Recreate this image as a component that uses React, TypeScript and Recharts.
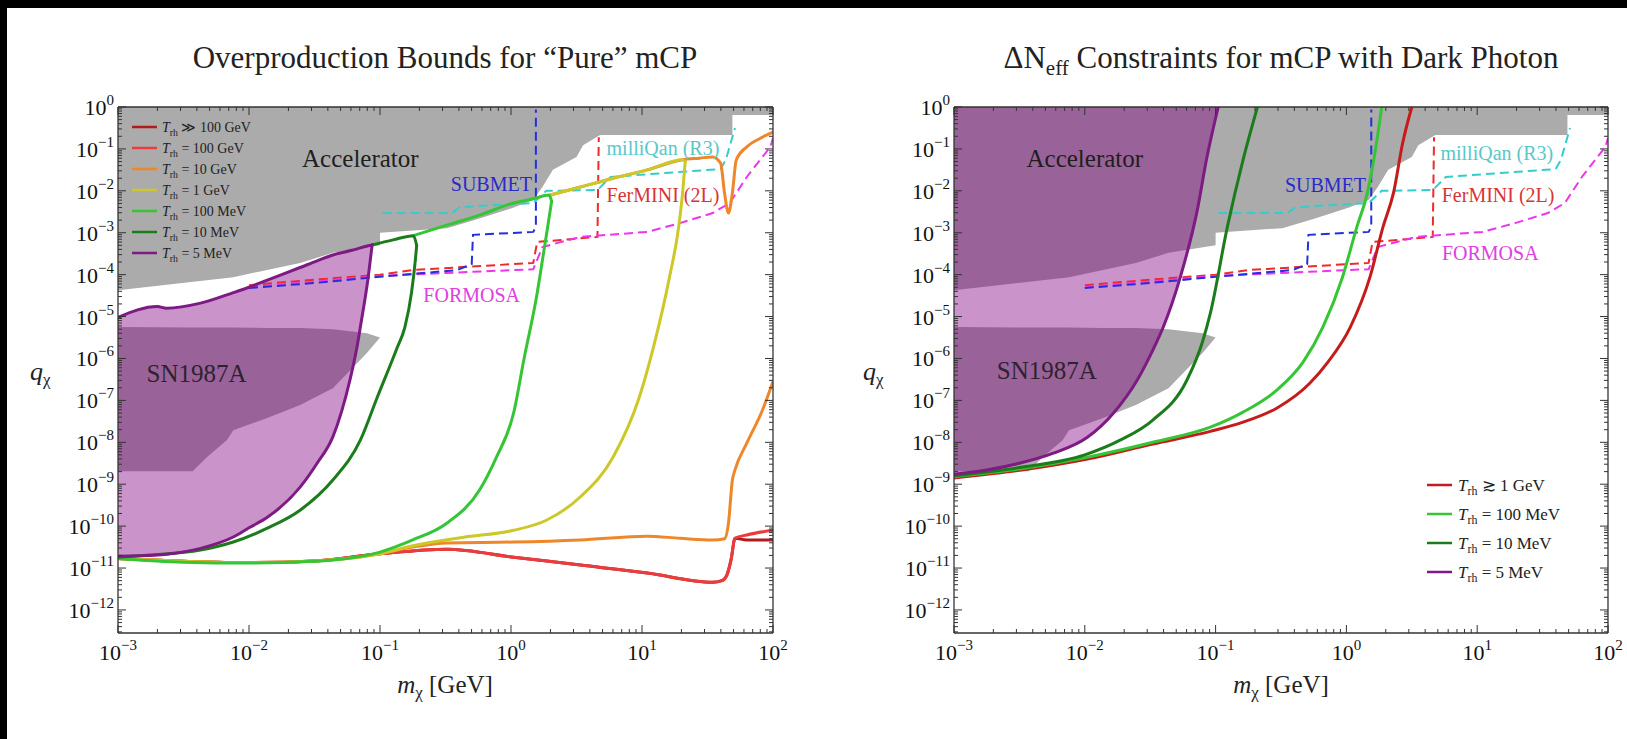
import React from "react";
import { ComposedChart, Area, Line, XAxis, YAxis, ReferenceDot } from "recharts";

// All coordinates are log10 values: x = log10(m / GeV), y = log10(q)
type Band = [number, number, number][];
type Curve = [number, number][];

const X_DOMAIN: [number, number] = [-3, 2];
const Y_DOMAIN: [number, number] = [-12.55, 0];

// excluded regions, [x, lower edge, upper edge]
const acceleratorBand: Band = [
  [-3, -4.37, 0], [-2.12, -4.06, 0], [-1.61, -3.72, 0], [-1.36, -3.48, 0],
  [-1.0, -3.3, 0], [-1.0, -3.0, 0], [-0.49, -2.89, 0], [-0.24, -2.66, 0],
  [0.02, -2.4, 0], [0.17, -2.22, 0], [0.24, -1.91, 0], [0.32, -1.5, 0],
  [0.5, -1.19, 0], [0.55, -0.91, 0], [0.68, -0.67, 0], [1.69, -0.67, 0],
  [1.69, -0.19, 0], [2, -0.19, 0],
];

const sn1987aBand: Band = [
  [-3, -8.69, -5.25], [-2.43, -8.69, -5.26], [-2.32, -8.35, -5.26],
  [-2.17, -7.95, -5.26], [-2.12, -7.71, -5.26], [-1.86, -7.42, -5.27],
  [-1.61, -7.11, -5.27], [-1.36, -6.71, -5.3], [-1.1, -5.87, -5.4],
  [-1.0, -5.5, -5.5],
];

// overproduction, T_rh = 5 MeV (closed region)
const pure5MeVBand: Band = [
  [-3, -10.72, -5.02], [-2.7, -10.69, -4.76], [-2.63, -10.67, -4.8],
  [-2.37, -10.53, -4.68], [-2.12, -10.26, -4.43], [-2.0, -10.04, -4.3],
  [-1.86, -9.79, -4.13], [-1.61, -9.07, -3.83], [-1.48, -8.5, -3.67],
  [-1.36, -7.87, -3.53], [-1.23, -6.52, -3.43], [-1.18, -5.8, -3.39],
  [-1.15, -5.25, -3.36], [-1.09, -4.06, -3.31], [-1.06, -3.29, -3.29],
];

const pure10MeV: Curve = [
  [-3, -10.74], [-2.76, -10.69], [-2.37, -10.57], [-2.12, -10.38], [-1.86, -10.05],
  [-1.61, -9.62], [-1.36, -8.9], [-1.15, -7.95], [-1.02, -6.92], [-0.87, -5.75],
  [-0.81, -5.25], [-0.76, -4.44], [-0.73, -3.65], [-0.72, -3.3], [-0.745, -3.07],
  [-0.9, -3.17], [-1.06, -3.29],
];

const pure100MeV: Curve = [
  [-3, -10.77], [-2.5, -10.86], [-2.0, -10.88], [-1.5, -10.84], [-1.36, -10.81],
  [-1.0, -10.62], [-0.75, -10.33], [-0.49, -9.93], [-0.24, -9.14], [-0.11, -8.35],
  [0.02, -7.3], [0.1, -6.0], [0.2, -4.44], [0.24, -3.65], [0.28, -2.86],
  [0.31, -2.25], [0.29, -2.1], [0.17, -2.19], [0.02, -2.29], [-0.24, -2.58],
  [-0.49, -2.82], [-0.745, -3.07],
];

const pure1GeV: Curve = [
  [-3, -10.77], [-2.0, -10.87], [-1.5, -10.83], [-1.0, -10.66], [-0.75, -10.47],
  [-0.37, -10.27], [0.02, -10.1], [0.27, -9.86], [0.53, -9.3], [0.78, -8.35],
  [0.98, -6.92], [1.09, -5.7], [1.21, -4.06], [1.28, -2.86], [1.31, -2.05],
  [1.33, -1.3], [1.31, -1.26], [1.04, -1.5], [0.78, -1.7], [0.53, -1.91], [0.3, -2.1],
];

const pure10GeVLow: Curve = [
  [-3, -10.77], [-2.0, -10.87], [-1.5, -10.83], [-1.0, -10.66], [-0.75, -10.5],
  [-0.49, -10.4], [0.02, -10.38], [0.53, -10.33], [1.04, -10.24], [1.29, -10.29],
  [1.54, -10.33], [1.63, -10.3], [1.66, -9.93], [1.69, -8.9], [1.71, -8.66],
  [1.8, -8.02], [1.92, -7.23], [2.0, -6.55],
];

const pure10GeVHigh: Curve = [
  [0.3, -2.1], [0.53, -1.91], [0.78, -1.7], [1.04, -1.5], [1.31, -1.26],
  [1.44, -1.22], [1.54, -1.19], [1.6, -1.34], [1.63, -2.05], [1.66, -2.53],
  [1.69, -2.05], [1.72, -1.26], [1.8, -0.95], [1.9, -0.75], [2.0, -0.6],
];

const pure100GeV: Curve = [
  [-3, -10.77], [-2.0, -10.87], [-1.5, -10.83], [-1.0, -10.66], [-0.49, -10.55],
  [0.02, -10.74], [0.53, -10.93], [1.04, -11.12], [1.54, -11.34], [1.61, -11.3],
  [1.65, -11.15], [1.68, -10.8], [1.71, -10.29], [1.8, -10.21], [2.0, -10.1],
];

const pureHighT: Curve = [
  [-3, -10.77], [-2.0, -10.87], [-1.5, -10.83], [-1.0, -10.66], [-0.49, -10.55],
  [0.02, -10.74], [0.53, -10.93], [1.04, -11.12], [1.54, -11.34], [1.61, -11.3],
  [1.65, -11.15], [1.68, -10.8], [1.71, -10.29], [1.8, -10.33], [2.0, -10.33],
];

// Delta N_eff with dark photon
const dp5MeVBand: Band = [
  [-3, -8.76, 0], [-2.75, -8.66, 0], [-2.5, -8.5, 0], [-2.24, -8.26, 0],
  [-1.98, -7.88, 0], [-1.78, -7.3, 0], [-1.6, -6.52, 0], [-1.48, -5.8, 0],
  [-1.4, -5.25, 0], [-1.27, -4.06, 0], [-1.14, -2.46, 0], [-1.07, -1.26, 0],
  [-0.98, 0, 0],
];

const dp10MeV: Curve = [
  [-3, -8.8], [-2.5, -8.6], [-2.0, -8.3], [-1.73, -7.95], [-1.48, -7.47],
  [-1.22, -6.52], [-1.1, -5.6], [-1.04, -4.92], [-0.91, -2.86], [-0.79, -1.26], [-0.68, 0],
];

const dp100MeV: Curve = [
  [-3, -8.82], [-2.5, -8.64], [-2.0, -8.37], [-1.48, -8.0], [-1.04, -7.64],
  [-0.79, -7.28], [-0.53, -6.75], [-0.33, -6.08], [-0.18, -5.25], [-0.03, -4.06],
  [0.08, -2.86], [0.16, -2.05], [0.23, -0.86], [0.27, 0],
];

const dp1GeV: Curve = [
  [-3, -8.85], [-2.5, -8.67], [-1.98, -8.4], [-1.48, -8.04], [-1.04, -7.74],
  [-0.79, -7.52], [-0.53, -7.18], [-0.28, -6.59], [-0.14, -6.08], [0.03, -5.25],
  [0.18, -4.06], [0.28, -2.86], [0.36, -2.05], [0.43, -0.86], [0.5, 0],
];

// projected experimental reach (dashed)
const submet: Curve = [
  [-2.0, -4.32], [-1.5, -4.2], [-1.0, -4.05], [-0.41, -3.89], [-0.3, -3.75],
  [-0.29, -3.05], [0.17, -2.98], [0.19, -2.86], [0.19, -0.06],
];
const fermini: Curve = [
  [-2.0, -4.25], [-1.5, -4.12], [-1.0, -4.0], [-0.75, -3.89], [0.17, -3.72],
  [0.2, -3.22], [0.66, -3.1], [0.67, -0.72],
];
const formosa: Curve = [
  [-2.0, -4.3], [-1.0, -4.03], [-0.49, -3.96], [0.17, -3.87], [0.24, -3.34],
  [0.53, -3.1], [1.04, -2.98], [1.29, -2.77], [1.54, -2.53], [1.67, -2.29],
  [1.8, -1.67], [1.98, -0.95], [2.0, -0.74],
];
const milliqan: Curve = [
  [-0.98, -2.53], [-0.45, -2.53], [-0.39, -2.39], [0.17, -2.29], [0.27, -2.0],
  [0.66, -1.98], [0.76, -1.67], [1.6, -1.48], [1.64, -1.26], [1.71, -0.5],
];

const leftLegend = ["≫ 100 GeV", "= 100 GeV", "= 10 GeV", "= 1 GeV", "= 100 MeV", "= 10 MeV", "= 5 MeV"];
const rightLegend = ["≳ 1 GeV", "= 100 MeV", "= 10 MeV", "= 5 MeV"];

const X_DECADES = [-3, -2, -1, 0, 1, 2];
const Y_DECADES = [-13, -12, -11, -10, -9, -8, -7, -6, -5, -4, -3, -2, -1, 0];

const FONT = '"Liberation Serif", "DejaVu Serif", serif';
const C = {
  gray: "#ababab",
  purple: "#7e1a83",
  purpleFill: "#800080",
  darkGreen: "#1c7c1c",
  green: "#35c535",
  yellow: "#cdc82a",
  orange: "#f0862a",
  red: "#ea3c3c",
  darkRed: "#b51a1a",
  dpRed: "#c51b1b",
  blue: "#2230dd",
  dashRed: "#ee2a2a",
  magenta: "#ee35ee",
  cyan: "#35cccc",
  frame: "#333",
};

const leftLegendColors = [C.darkRed, C.red, C.orange, C.yellow, C.green, C.darkGreen, C.purple];
const rightLegendColors = [C.dpRed, C.green, C.darkGreen, C.purple];

const xy = (pts: Curve) => pts.map(([x, y]) => ({ x, y }));
const range = (pts: Band) => pts.map(([x, lo, hi]) => ({ x, r: [lo, hi] }));
const lower = (pts: Band): Curve => pts.map(([x, lo]) => [x, lo]);
const upper = (pts: Band): Curve => pts.map(([x, , hi]) => [x, hi]);

// cut a curve where it turns back in x, so each piece can use a monotone spline
function monotoneRuns(pts: Curve): Curve[] {
  const runs: Curve[] = [];
  let cur: Curve = [pts[0]];
  let dir = 0;
  for (let i = 1; i < pts.length; i++) {
    const d = Math.sign(pts[i][0] - pts[i - 1][0]);
    if (dir === 0 || d === dir) {
      cur.push(pts[i]);
      dir = d;
    } else {
      runs.push(cur);
      cur = [pts[i - 1], pts[i]];
      dir = d;
    }
  }
  runs.push(cur);
  return runs.map((r) => (r[0][0] <= r[r.length - 1][0] ? r : [...r].reverse()));
}

function logTicks(decades: number[], lo: number, hi: number) {
  const out: number[] = [];
  decades.forEach((n) => {
    for (let k = 1; k < 10; k++) {
      const v = n + Math.log10(k);
      if (v >= lo - 1e-9 && v <= hi + 1e-9) out.push(v);
    }
  });
  return out;
}
const xTicks = logTicks(X_DECADES, X_DOMAIN[0], X_DOMAIN[1]);
const yTicks = logTicks(Y_DECADES, Y_DOMAIN[0], Y_DOMAIN[1]);

const isMajor = (v: number) => Math.abs(v - Math.round(v)) < 1e-6;
const expText = (v: number) => {
  const n = Math.round(v);
  return n < 0 ? `−${-n}` : `${n}`;
};

function Power({ x, y, anchor, v }: { x: number; y: number; anchor: string; v: number }) {
  return (
    <text x={x} y={y} textAnchor={anchor} fontFamily={FONT} fontSize={22} fill="#111">
      10
      <tspan dy={-10} fontSize={15}>
        {expText(v)}
      </tspan>
    </text>
  );
}

const tickLen = (v: number) => (isMajor(v) ? 8 : 4);

function BottomTick(props: any) {
  const { x, y, payload } = props;
  const v = payload.value;
  return (
    <g>
      <line x1={x} x2={x} y1={y} y2={y - tickLen(v)} stroke={C.frame} />
      {isMajor(v) && <Power x={x} y={y + 27} anchor="middle" v={v} />}
    </g>
  );
}
function TopTick(props: any) {
  const { x, y, payload } = props;
  return <line x1={x} x2={x} y1={y} y2={y + tickLen(payload.value)} stroke={C.frame} />;
}
function LeftTick(props: any) {
  const { x, y, payload } = props;
  const v = payload.value;
  return (
    <g>
      <line x1={x} x2={x + tickLen(v)} y1={y} y2={y} stroke={C.frame} />
      {isMajor(v) && <Power x={x - 4} y={y + 8} anchor="end" v={v} />}
    </g>
  );
}
function RightTick(props: any) {
  const { x, y, payload } = props;
  return <line x1={x} x2={x - tickLen(payload.value)} y1={y} y2={y} stroke={C.frame} />;
}

const axisLine = { stroke: C.frame, strokeWidth: 1.3 };

// axes are 1px thick so they get drawn; margins below account for that
function frameAxes() {
  return [
    <XAxis key="xb" xAxisId="b" type="number" dataKey="x" domain={X_DOMAIN} allowDataOverflow
      ticks={xTicks} interval={0} tick={<BottomTick />} tickLine={false} tickSize={0} tickMargin={0}
      height={1} axisLine={axisLine} />,
    <XAxis key="xt" xAxisId="t" orientation="top" type="number" dataKey="x" domain={X_DOMAIN}
      allowDataOverflow ticks={xTicks} interval={0} tick={<TopTick />} tickLine={false} tickSize={0}
      tickMargin={0} height={1} axisLine={axisLine} />,
    <YAxis key="yl" yAxisId="l" type="number" domain={Y_DOMAIN} allowDataOverflow ticks={yTicks}
      interval={0} tick={<LeftTick />} tickLine={false} tickSize={0} tickMargin={0} width={1}
      axisLine={axisLine} />,
    <YAxis key="yr" yAxisId="r" orientation="right" type="number" domain={Y_DOMAIN} allowDataOverflow
      ticks={yTicks} interval={0} tick={<RightTick />} tickLine={false} tickSize={0} tickMargin={0}
      width={1} axisLine={axisLine} />,
  ];
}

const ax = { xAxisId: "b", yAxisId: "l", isAnimationActive: false, dot: false, activeDot: false } as const;

// smooth solid curve, split into x-monotone pieces
function solid(key: string, pts: Curve, color: string, width = 3) {
  return monotoneRuns(pts).map((run, i) => (
    <Line key={`${key}-${i}`} {...ax} data={xy(run)} dataKey="y" type="monotoneX" stroke={color}
      strokeWidth={width} strokeLinejoin="round" strokeLinecap="round" />
  ));
}
function dashed(key: string, pts: Curve, color: string) {
  return (
    <Line key={key} {...ax} data={xy(pts)} dataKey="y" type="linear" stroke={color}
      strokeWidth={2} strokeDasharray="9 5" />
  );
}
function fill(key: string, band: Band, color: string, opacity: number, smooth = false) {
  return (
    <Area key={key} {...ax} data={range(band)} dataKey="r" type={smooth ? "monotoneX" : "linear"}
      fill={color} fillOpacity={opacity} stroke="none" />
  );
}

type Note = { x: number; y: number; text: string; color: string; size: number };

function notes(list: Note[]) {
  return list.map((n) => (
    <ReferenceDot key={n.text} xAxisId="b" yAxisId="l" x={n.x} y={n.y} r={0}
      shape={(p: any) => (
        <text x={p.cx} y={p.cy} textAnchor="middle" dominantBaseline="central" fontFamily={FONT}
          fontSize={n.size} fill={n.color}>
          {n.text}
        </text>
      )} />
  ));
}

const leftNotes: Note[] = [
  { x: -1.15, y: -1.22, text: "Accelerator", color: "#1e1e1e", size: 25 },
  { x: -0.15, y: -1.83, text: "SUBMET", color: "#2a2ac8", size: 20 },
  { x: 1.16, y: -0.98, text: "milliQan (R3)", color: "#58c8c8", size: 20 },
  { x: 1.16, y: -2.1, text: "FerMINI (2L)", color: "#d83434", size: 20 },
  { x: -0.3, y: -4.49, text: "FORMOSA", color: "#e040e0", size: 20 },
  { x: -2.4, y: -6.35, text: "SN1987A", color: "#2e2230", size: 25 },
];
const rightNotes: Note[] = [
  { x: -2.0, y: -1.22, text: "Accelerator", color: "#1e1e1e", size: 25 },
  { x: -0.16, y: -1.86, text: "SUBMET", color: "#2a2ac8", size: 20 },
  { x: 1.15, y: -1.1, text: "milliQan (R3)", color: "#58c8c8", size: 20 },
  { x: 1.16, y: -2.1, text: "FerMINI (2L)", color: "#d83434", size: 20 },
  { x: 1.1, y: -3.48, text: "FORMOSA", color: "#e040e0", size: 20 },
  { x: -2.29, y: -6.28, text: "SN1987A", color: "#2e2230", size: 25 },
];

function dashedSet() {
  return [
    dashed("fermini", fermini, C.dashRed),
    dashed("formosa", formosa, C.magenta),
    dashed("submet", submet, C.blue),
    dashed("milliqan", milliqan, C.cyan),
  ];
}

function PureChart() {
  return (
    <ComposedChart width={800} height={739} margin={{ top: 106, right: 26, bottom: 105, left: 117 }}
      style={{ position: "absolute", left: 0, top: 0 }}>
      {frameAxes()}
      {fill("acc", acceleratorBand, C.gray, 1)}
      {fill("sn", sn1987aBand, C.gray, 1)}
      {fill("p5", pure5MeVBand, C.purpleFill, 0.42, true)}
      {dashedSet()}
      {solid("hiT", pureHighT, C.darkRed)}
      {solid("t100g", pure100GeV, C.red)}
      {solid("t10gLo", pure10GeVLow, C.orange)}
      {solid("t10gHi", pure10GeVHigh, C.orange)}
      {solid("t1g", pure1GeV, C.yellow)}
      {solid("t100m", pure100MeV, C.green)}
      {solid("t10m", pure10MeV, C.darkGreen)}
      {solid("t5mLo", lower(pure5MeVBand), C.purple)}
      {solid("t5mHi", upper(pure5MeVBand), C.purple)}
      {notes(leftNotes)}
    </ComposedChart>
  );
}

function DarkPhotonChart() {
  return (
    <ComposedChart width={807} height={739} margin={{ top: 106, right: 18, bottom: 105, left: 133 }}
      style={{ position: "absolute", left: 820, top: 0 }}>
      {frameAxes()}
      {fill("acc", acceleratorBand, C.gray, 1)}
      {fill("sn", sn1987aBand, C.gray, 1)}
      {fill("d5", dp5MeVBand, C.purpleFill, 0.42, true)}
      {dashedSet()}
      {solid("d1g", dp1GeV, C.dpRed)}
      {solid("d100m", dp100MeV, C.green)}
      {solid("d10m", dp10MeV, C.darkGreen)}
      {solid("d5m", lower(dp5MeVBand), C.purple)}
      {notes(rightNotes)}
    </ComposedChart>
  );
}

function Trh({ x, y, size, rest }: { x: number; y: number; size: number; rest: string }) {
  return (
    <text x={x} y={y} fontFamily={FONT} fontSize={size} fill="#222">
      <tspan fontStyle="italic">T</tspan>
      <tspan dy={size * 0.25} fontSize={size * 0.7}>rh</tspan>
      <tspan dy={-size * 0.25}>{" " + rest}</tspan>
    </text>
  );
}

function Overlay() {
  return (
    <svg width={1627} height={739} style={{ position: "absolute", left: 0, top: 0, pointerEvents: "none" }}>
      <g fontFamily={FONT} fill="#222">
        <text x={445} y={68} textAnchor="middle" fontSize={31}>
          Overproduction Bounds for “Pure” mCP
        </text>
        <text x={1281} y={68} textAnchor="middle" fontSize={31}>
          ΔN<tspan dy={7} fontSize={21}>eff</tspan>
          <tspan dy={-7}> Constraints for mCP with Dark Photon</tspan>
        </text>
        {[445, 1281].map((cx) => (
          <text key={cx} x={cx} y={693} textAnchor="middle" fontSize={25}>
            <tspan fontStyle="italic">m</tspan>
            <tspan dy={5} fontSize={17}>χ</tspan>
            <tspan dy={-5}> [GeV]</tspan>
          </text>
        ))}
        {[30, 863].map((lx) => (
          <text key={lx} x={lx} y={380} fontSize={26}>
            <tspan fontStyle="italic">q</tspan>
            <tspan dy={5} fontSize={17}>χ</tspan>
          </text>
        ))}
      </g>
      {leftLegend.map((t, i) => (
        <g key={t}>
          <line x1={132} x2={157} y1={127 + i * 21} y2={127 + i * 21} stroke={leftLegendColors[i]} strokeWidth={2.5} />
          <Trh x={162} y={132 + i * 21} size={14} rest={t} />
        </g>
      ))}
      {rightLegend.map((t, i) => (
        <g key={t}>
          <line x1={1427} x2={1452} y1={485 + i * 29} y2={485 + i * 29} stroke={rightLegendColors[i]} strokeWidth={2.5} />
          <Trh x={1458} y={491 + i * 29} size={17} rest={t} />
        </g>
      ))}
    </svg>
  );
}

export default function App() {
  return (
    <div style={{ position: "absolute", left: 0, top: 0, width: 1627, height: 739, background: "#000" }}>
      <div style={{ position: "absolute", left: 7, top: 8, right: 0, bottom: 0, background: "#fff" }} />
      <PureChart />
      <DarkPhotonChart />
      <Overlay />
    </div>
  );
}
